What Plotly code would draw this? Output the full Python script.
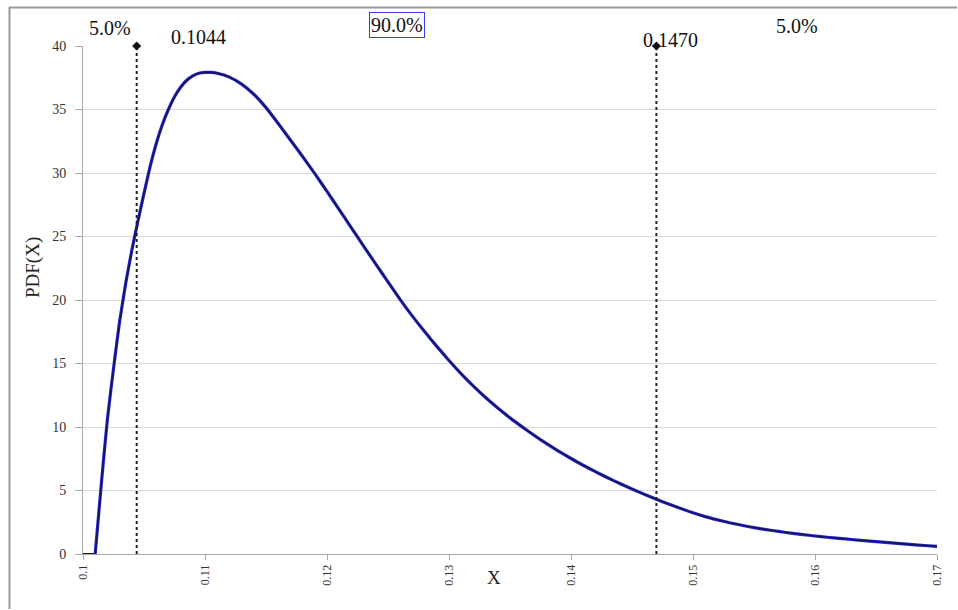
import plotly.graph_objects as go

# ---- data ----
flat_x = [0.1000, 0.1010]
flat_y = [0, 0]

curve_x = [0.1010, 0.1015, 0.1020, 0.1025, 0.1030, 0.1035, 0.1040, 0.1045, 0.1050,
           0.1055, 0.1060, 0.1065, 0.1070, 0.1075, 0.1080, 0.1085, 0.1090, 0.1095,
           0.1100, 0.1105, 0.1110, 0.1120, 0.1130, 0.1140, 0.1150, 0.1160, 0.1170,
           0.1180, 0.1190, 0.1200, 0.1210, 0.1220, 0.1230, 0.1240, 0.1250, 0.1260,
           0.1270, 0.1280, 0.1290, 0.1300, 0.1310, 0.1320, 0.1330, 0.1340, 0.1350,
           0.1360, 0.1370, 0.1380, 0.1390, 0.1400, 0.1410, 0.1420, 0.1430, 0.1440,
           0.1450, 0.1460, 0.1470, 0.1480, 0.1490, 0.1500, 0.1510, 0.1520, 0.1530,
           0.1540, 0.1550, 0.1560, 0.1570, 0.1580, 0.1590, 0.1600, 0.1610, 0.1620,
           0.1630, 0.1640, 0.1650, 0.1660, 0.1670, 0.1680, 0.1690, 0.1700]
curve_y = [0.0, 5.5, 10.6, 14.6, 18.3, 21.3, 23.9, 26.2, 28.4,
           30.5, 32.3, 33.8, 35.0, 36.0, 36.75, 37.3, 37.65, 37.85,
           37.92, 37.92, 37.85, 37.55, 37.0, 36.2, 35.15, 33.9, 32.6,
           31.3, 29.95, 28.55, 27.12, 25.68, 24.25, 22.83, 21.42, 20.03,
           18.73, 17.51, 16.35, 15.24, 14.19, 13.22, 12.32, 11.49, 10.72,
           10.01, 9.33, 8.69, 8.09, 7.52, 6.99, 6.48, 6.00, 5.55,
           5.12, 4.70, 4.31, 3.93, 3.58, 3.24, 2.94, 2.69, 2.46,
           2.26, 2.08, 1.92, 1.78, 1.65, 1.53, 1.42, 1.32, 1.23,
           1.14, 1.06, 0.98, 0.90, 0.82, 0.74, 0.67, 0.60]

cut_x = [0.1044, 0.1470]
cut_labels = ["0.1044", "0.1470"]
pct_labels = ["5.0%", "90.0%", "5.0%"]
y_top = 40

x_ticks = [0.1, 0.11, 0.12, 0.13, 0.14, 0.15, 0.16, 0.17]
x_tick_text = ["0.1", "0.11", "0.12", "0.13", "0.14", "0.15", "0.16", "0.17"]
y_ticks = [0, 5, 10, 15, 20, 25, 30, 35, 40]

SERIF = "Liberation Serif, Times New Roman, serif"

fig = go.Figure()

# flat part at zero
fig.add_trace(go.Scatter(x=flat_x, y=flat_y, mode="lines",
                         line=dict(color="#202020", width=2), hoverinfo="skip"))
# curve: blue halo + dark core
fig.add_trace(go.Scatter(x=curve_x, y=curve_y, mode="lines",
                         line=dict(color="#2a2ad8", width=3.2, shape="spline", smoothing=0.5),
                         hoverinfo="skip"))
fig.add_trace(go.Scatter(x=curve_x, y=curve_y, mode="lines",
                         line=dict(color="#14145a", width=1.6, shape="spline", smoothing=0.5),
                         hoverinfo="skip"))

# cut-off lines
for cx in cut_x:
    fig.add_trace(go.Scatter(x=[cx, cx], y=[0, y_top], mode="lines",
                             line=dict(color="#222222", width=2, dash="dot"),
                             hoverinfo="skip"))
fig.add_trace(go.Scatter(x=cut_x, y=[y_top] * len(cut_x), mode="markers",
                         marker=dict(symbol="diamond", size=7, color="#111111"),
                         hoverinfo="skip", cliponaxis=False))

# paper-coordinate helpers (page px: plot area 83..937, 46..554)
def px(v):
    return (v - 83) / 854.0

def py(v):
    return (554 - v) / 508.0

ann = []
ann.append(dict(x=px(110), y=py(28), text=pct_labels[0]))
ann.append(dict(x=px(198), y=py(37), text=cut_labels[0]))
ann.append(dict(x=px(397), y=py(25), text=pct_labels[1], bordercolor="#3a3aff",
                borderwidth=1, borderpad=1))
ann.append(dict(x=px(670), y=py(40), text=cut_labels[1]))
ann.append(dict(x=px(797), y=py(26), text=pct_labels[2]))
for a in ann:
    a.update(xref="paper", yref="paper", showarrow=False, xanchor="center",
             yanchor="middle", font=dict(family=SERIF, size=20, color="#111111"))
    fig.add_annotation(**a)

# axis titles
fig.add_annotation(x=px(494), y=py(590), xref="paper", yref="paper", text="X",
                   showarrow=False, font=dict(family=SERIF, size=19, color="#222222"))
fig.add_annotation(x=px(20), y=py(268), xref="paper", yref="paper", text="PDF(X)",
                   showarrow=False, textangle=-90,
                   font=dict(family=SERIF, size=19, color="#222222"))

# outer frame (top and left edges, kept inside the figure)
fig.add_shape(type="line", xref="paper", yref="paper",
              x0=px(9), x1=px(957), y0=py(7.5), y1=py(7.5),
              line=dict(color="#9a9a9a", width=2), layer="below")
fig.add_shape(type="line", xref="paper", yref="paper",
              x0=px(9.5), x1=px(9.5), y0=py(7), y1=py(609),
              line=dict(color="#9a9a9a", width=2), layer="below")

fig.update_layout(
    width=958, height=610,
    margin=dict(l=83, r=21, t=46, b=56),
    paper_bgcolor="white", plot_bgcolor="white",
    showlegend=False,
    hovermode=False,
    xaxis=dict(range=[0.1, 0.17], tickvals=x_ticks, ticktext=x_tick_text,
               tickangle=-90, showgrid=False, zeroline=False,
               showline=True, linecolor="#a8a8a8", linewidth=1,
               ticks="outside", ticklen=5, tickcolor="#a8a8a8",
               tickfont=dict(family=SERIF, size=12, color="#333333")),
    yaxis=dict(range=[0, 40], tickvals=y_ticks, showgrid=True,
               gridcolor="#dadada", gridwidth=1, zeroline=False,
               showline=True, linecolor="#a8a8a8", linewidth=1,
               ticks="outside", ticklen=7, tickcolor="#a8a8a8",
               ticklabelstandoff=6,
               tickfont=dict(family=SERIF, size=14, color="#333333")),
)

# remove the default 8px page margin so the 958x610 figure fills the window exactly
fig.write_html(
    "out.html",
    config={"displayModeBar": False},
    post_script="document.body.style.margin='0';document.body.style.overflow='hidden';",
)
